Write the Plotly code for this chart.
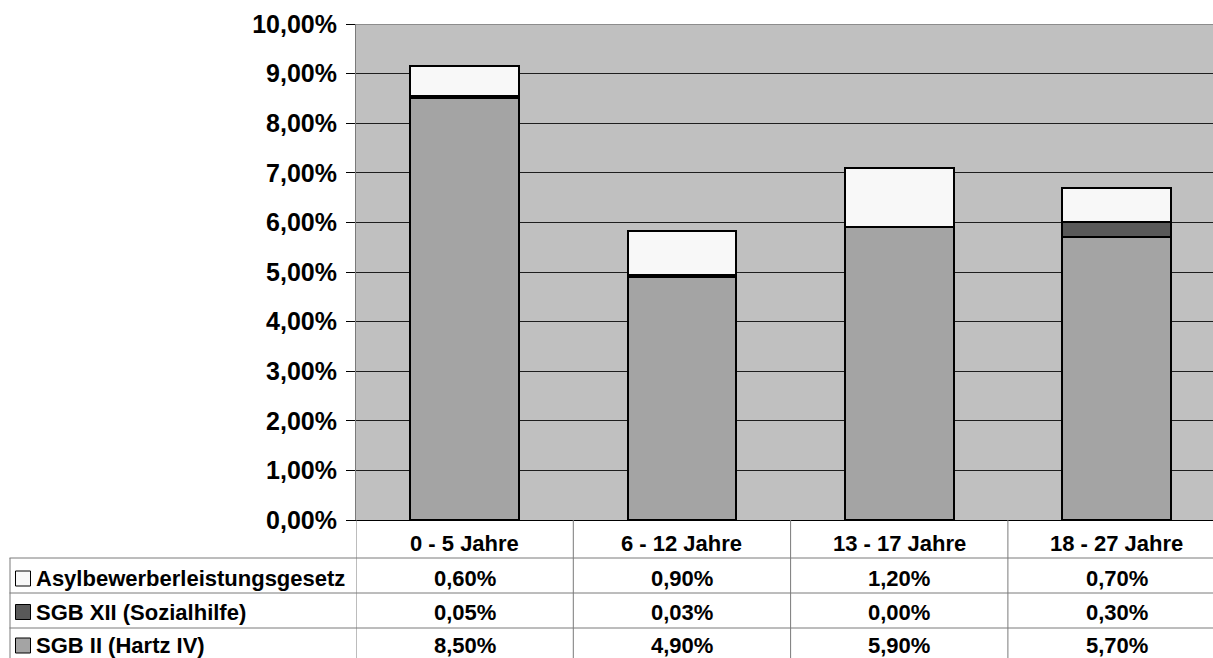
import plotly.graph_objects as go

# Age groups and benefit shares (percent of the age group)
categories = ["0 - 5 Jahre", "6 - 12 Jahre", "13 - 17 Jahre", "18 - 27 Jahre"]
sgb2 = [8.50, 4.90, 5.90, 5.70]        # SGB II (Hartz IV)
sgb12 = [0.05, 0.03, 0.00, 0.30]       # SGB XII (Sozialhilfe)
asyl = [0.60, 0.90, 1.20, 0.70]        # Asylbewerberleistungsgesetz

series_names = ["SGB II (Hartz IV)", "SGB XII (Sozialhilfe)", "Asylbewerberleistungsgesetz"]
series_values = [sgb2, sgb12, asyl]
series_colors = ["#a4a4a4", "#595959", "#f8f8f8"]

y_ticks = [0, 1, 2, 3, 4, 5, 6, 7, 8, 9, 10]
y_tick_labels = ["0,00%", "1,00%", "2,00%", "3,00%", "4,00%", "5,00%",
                 "6,00%", "7,00%", "8,00%", "9,00%", "10,00%"]

W, H = 1213, 658
L, R, T, B = 356, 0, 24, 138
PW, PH = W - L - R, H - T - B
FONT = "Liberation Sans, Arial, sans-serif"
TABLE_SIZE = 22
CAT_PX = 217.3  # width of one category column in pixels; the last column runs past the page edge


def fmt(v):
    return f"{v:.2f}".replace(".", ",") + "%"


def py(pix):
    # vertical pixel -> paper fraction
    return (H - B - pix) / PH


def px(pix):
    # horizontal pixel -> paper fraction
    return (pix - L) / PW


fig = go.Figure()
for name, vals, col in zip(series_names, series_values, series_colors):
    fig.add_trace(go.Bar(
        x=categories, y=vals, name=name,
        marker=dict(color=col, line=dict(color="#000000", width=2)),
        width=0.50, showlegend=False, hoverinfo="skip", cliponaxis=False,
    ))

shapes = []
annotations = []

# top border of the plot area
shapes.append(dict(type="line", xref="paper", yref="y", x0=0, x1=1, y0=10, y1=10,
                   line=dict(color="#8c8c8c", width=2), layer="above"))

# data table below the chart
line_col = "#7a7a7a"
row_lines = [558, 593, 628]
for yl in row_lines:
    shapes.append(dict(type="line", xref="paper", yref="paper",
                       x0=px(9.5), x1=1, y0=py(yl), y1=py(yl),
                       line=dict(color=line_col, width=1)))
# column dividers at category boundaries
for k in range(len(categories)):
    shapes.append(dict(type="line", xref="x", yref="paper",
                       x0=k - 0.5, x1=k - 0.5, y0=py(520), y1=py(H + 5),
                       line=dict(color=line_col, width=1)))
# left edge of the legend column
shapes.append(dict(type="line", xref="paper", yref="paper",
                   x0=px(10), x1=px(10), y0=py(558), y1=py(H + 5),
                   line=dict(color=line_col, width=1)))

table_font = dict(family=FONT, size=TABLE_SIZE, color="#000000", weight="bold")

# column headers
for i, cat in enumerate(categories):
    annotations.append(dict(xref="x", yref="paper", x=i, y=py(543), text=cat,
                            showarrow=False, xanchor="center", yanchor="middle",
                            font=table_font))

# table rows: legend key + values (top row is the topmost stacked series)
row_centers = [578.5, 612, 645.5]
for r, idx in enumerate([2, 1, 0]):
    yc = row_centers[r]
    shapes.append(dict(type="rect", xref="paper", yref="paper",
                       x0=px(15.5), x1=px(30.5), y0=py(yc - 7.5), y1=py(yc + 7.5),
                       fillcolor=series_colors[idx], line=dict(color="#000000", width=1)))
    annotations.append(dict(xref="paper", yref="paper", x=px(33.5), y=py(yc),
                            text=series_names[idx], showarrow=False,
                            xanchor="left", yanchor="middle", font=table_font))
    for i, v in enumerate(series_values[idx]):
        annotations.append(dict(xref="x", yref="paper", x=i, y=py(yc), text=fmt(v),
                                showarrow=False, xanchor="center", yanchor="middle",
                                font=table_font))

fig.update_layout(
    width=W, height=H,
    margin=dict(l=L, r=R, t=T, b=B, pad=0),
    barmode="stack",
    paper_bgcolor="#ffffff",
    plot_bgcolor="#c0c0c0",
    shapes=shapes,
    annotations=annotations,
    xaxis=dict(showticklabels=False, ticks="", showgrid=False, zeroline=False,
               showline=True, linecolor="#000000", linewidth=1,
               range=[-0.5, -0.5 + PW / CAT_PX], fixedrange=True),
    yaxis=dict(range=[0, 10], tickvals=y_ticks, ticktext=y_tick_labels,
               ticks="outside", ticklen=9, tickcolor="#000000", tickwidth=1,
               ticklabelstandoff=4,
               tickfont=dict(family=FONT, size=25, color="#000000", weight="bold"),
               showgrid=True, gridcolor="#1e1e1e", gridwidth=1, zeroline=False,
               showline=True, linecolor="#7a7a7a", linewidth=1, fixedrange=True),
    font=dict(family=FONT),
)

fig.write_html("out.html", config={"displayModeBar": False})
